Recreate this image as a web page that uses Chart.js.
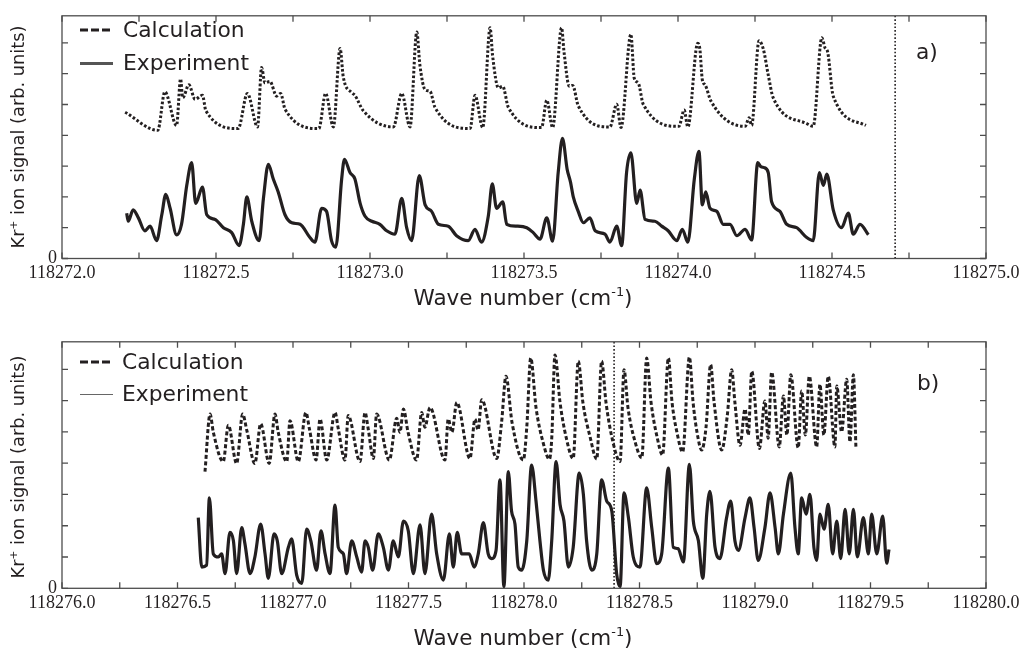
<!DOCTYPE html>
<html>
<head>
<meta charset="utf-8">
<script src="https://cdn.jsdelivr.net/npm/chart.js@4.4.1/dist/chart.umd.min.js"></script>
<style>
  body { margin: 0; background: #fff; width: 1032px; height: 652px; position: relative; overflow: hidden; color: #231f20; }
  canvas { position: absolute; left: 0; }
  .t { position: absolute; white-space: nowrap; line-height: 1; font-family: "DejaVu Sans", sans-serif; }
  .mid { transform: translate(0, -50%); }
  .ytitle { transform: translate(-50%, -50%) rotate(-90deg); font-size: 17.8px; }
  .xtitle { transform: translate(-50%, -50%); font-size: 21.5px; }
  .leg { font-size: 21.8px; }
  sup { font-size: 60%; line-height: 0; vertical-align: 0.7em; }
</style>
</head>
<body>
<canvas id="chartA" width="1032" height="326" style="top:0"></canvas>
<canvas id="chartB" width="1032" height="326" style="top:326px"></canvas>

<!-- panel a texts -->
<div class="t ytitle" style="left:18px; top:137px">Kr<sup>+</sup> ion signal (arb. units)</div>
<div class="t xtitle" style="left:523px; top:298px">Wave number (cm<sup>-1</sup>)</div>
<svg style="position:absolute; left:80px; top:27px" width="34" height="6"><line x1="0" y1="3" x2="33" y2="3" stroke="#231f20" stroke-width="3" stroke-dasharray="8,3"/></svg>
<div class="t leg mid" style="left:123px; top:30px">Calculation</div>
<div style="position:absolute; left:80px; top:62px; width:33px; height:3px; background:#555"></div>
<div class="t leg mid" style="left:123px; top:63px">Experiment</div>
<div class="t leg mid" style="left:916px; top:52px">a)</div>

<!-- panel b texts -->
<div class="t ytitle" style="left:18px; top:467px">Kr<sup>+</sup> ion signal (arb. units)</div>
<div class="t xtitle" style="left:523px; top:638px">Wave number (cm<sup>-1</sup>)</div>
<svg style="position:absolute; left:80px; top:359px" width="34" height="6"><line x1="0" y1="3" x2="33" y2="3" stroke="#231f20" stroke-width="3" stroke-dasharray="8,3"/></svg>
<div class="t leg mid" style="left:122px; top:362px">Calculation</div>
<div style="position:absolute; left:80px; top:394px; width:33px; height:1px; background:#666"></div>
<div class="t leg mid" style="left:122px; top:394px">Experiment</div>
<div class="t leg mid" style="left:917px; top:383px">b)</div>

<script>
// ---- panel a : valeurs ----
const aCalcX = [118272.205,118272.311,118272.334,118272.372,118272.385,118272.392,118272.412,118272.432,118272.456,118272.467,
  118272.572,118272.602,118272.635,118272.648,118272.659,118272.675,118272.697,118272.710,118272.724,
  118272.834,118272.856,118272.881,118272.903,118272.913,118272.941,118272.951,118272.978,
  118273.076,118273.103,118273.130,118273.152,118273.162,118273.179,118273.195,118273.211,
  118273.325,118273.341,118273.366,118273.390,118273.398,118273.417,118273.431,118273.449,
  118273.557,118273.574,118273.593,118273.622,118273.630,118273.647,118273.658,118273.676,
  118273.779,118273.801,118273.815,118273.847,118273.858,118273.871,118273.887,
  118274.003,118274.020,118274.032,118274.064,118274.071,118274.079,118274.088,118274.107,
  118274.218,118274.231,118274.239,118274.263,118274.277,118274.293,118274.309,
  118274.418,118274.439,118274.467,118274.477,118274.486,118274.504,118274.610];
const aCalcY = [4.75,4.16,5.41,4.32,5.83,5.22,5.64,5.17,5.30,4.80,
  4.22,5.36,4.27,6.20,5.70,5.75,5.27,5.36,4.85,
  4.22,5.36,4.27,6.82,5.91,5.38,5.30,4.80,
  4.27,5.36,4.27,7.35,6.28,5.48,5.43,4.91,
  4.22,5.30,4.25,7.49,6.59,5.54,5.59,4.91,
  4.25,5.14,4.25,7.49,6.70,5.59,5.62,4.96,
  4.27,5.01,4.25,7.28,5.85,5.70,5.01,
  4.29,4.82,4.27,6.99,6.80,5.80,5.64,5.11,
  4.29,4.57,4.32,7.07,6.80,5.96,5.22,
  4.38,4.29,7.17,6.85,6.70,5.27,4.32];

const aExpX = [118272.210,118272.215,118272.231,118272.248,118272.269,118272.286,118272.307,118272.324,118272.337,118272.351,
  118272.372,118272.388,118272.405,118272.421,118272.434,118272.456,118272.470,118272.497,118272.524,118272.551,
  118272.575,118272.589,118272.600,118272.616,118272.640,118272.654,118272.670,118272.686,118272.702,118272.724,
  118272.746,118272.773,118272.805,118272.821,118272.843,118272.859,118272.875,118272.889,118272.908,118272.917,
  118272.935,118272.951,118272.968,118272.984,
  118273.006,118273.032,118273.054,118273.081,118273.103,118273.119,118273.135,118273.160,118273.179,118273.200,
  118273.222,118273.254,118273.281,118273.319,118273.341,118273.362,118273.384,118273.397,118273.411,118273.431,
  118273.444,118273.476,118273.509,118273.530,118273.552,118273.574,118273.593,118273.611,118273.625,118273.640,
  118273.651,118273.660,118273.676,118273.693,118273.714,118273.731,118273.763,118273.779,118273.801,118273.817,
  118273.833,118273.847,118273.866,118273.877,118273.893,118273.925,118273.947,118273.968,118273.996,
  118274.014,118274.032,118274.053,118274.068,118274.079,118274.090,118274.104,118274.126,118274.147,118274.169,
  118274.191,118274.218,118274.239,118274.259,118274.269,118274.280,118274.293,118274.304,118274.331,118274.353,
  118274.385,118274.418,118274.439,118274.459,118274.472,118274.483,118274.504,118274.531,118274.553,118274.569,
  118274.591,118274.618];
const aExpY = [1.47,1.21,1.58,1.32,0.90,1.05,0.58,1.42,2.08,1.63,
  0.77,1.11,2.37,3.11,1.79,2.32,1.42,1.27,1.00,0.84,
  0.42,1.11,2.00,1.21,0.58,1.95,3.06,2.58,2.16,1.42,
  1.16,1.11,0.68,0.53,1.63,1.53,0.58,0.37,2.58,3.22,
  2.79,2.58,1.79,1.37,
  1.21,1.11,0.90,0.79,1.95,1.00,0.58,2.69,1.74,1.53,
  1.11,1.05,0.74,0.58,0.95,0.53,1.37,2.42,1.63,1.84,
  1.11,1.05,1.00,0.84,0.63,1.32,0.56,2.79,3.90,2.90,
  2.48,2.00,1.53,1.16,1.32,0.90,0.79,0.53,1.05,0.42,
  2.79,3.43,1.79,2.22,1.27,1.21,1.05,0.90,0.58,
  0.95,0.53,2.58,3.48,1.74,2.16,1.63,1.53,1.11,1.11,
  0.74,0.95,0.60,3.11,2.98,2.95,2.79,1.84,1.53,1.11,
  1.00,0.68,0.58,2.79,2.37,2.74,1.58,1.00,1.47,0.79,
  1.11,0.77];

const aMarkerX = 118274.705;
const aTicksX = [118272.0,118272.25,118272.5,118272.75,118273.0,118273.25,118273.5,118273.75,118274.0,118274.25,118274.5,118274.75,118275.0];
const aLabelsX = ['118272.0','','118272.5','','118273.0','','118273.5','','118274.0','','118274.5','','118275.0'];

// ---- panel b ----
const bCalcX = [118276.619,118276.641,118276.655,118276.698,118276.720,118276.756,118276.782,118276.800,118276.835,118276.860,
  118276.897,118276.922,118276.936,118276.973,118276.987,
  118277.023,118277.056,118277.071,118277.100,118277.117,118277.146,118277.182,118277.196,118277.225,118277.239,
  118277.290,118277.312,118277.325,118277.348,118277.362,118277.417,118277.449,118277.463,118277.478,118277.498,
  118277.535,118277.557,118277.571,118277.593,118277.658,118277.672,118277.688,118277.709,118277.766,118277.788,
  118277.801,118277.817,118277.882,118277.903,118277.922,118277.948,118277.997,
  118278.012,118278.029,118278.052,118278.082,118278.110,118278.120,118278.134,118278.156,118278.182,118278.213,
  118278.235,118278.255,118278.286,118278.315,118278.336,118278.355,118278.385,118278.416,118278.433,118278.450,
  118278.481,118278.510,118278.531,118278.550,118278.576,118278.600,118278.625,118278.641,118278.662,118278.687,
  118278.716,118278.732,118278.749,118278.769,118278.788,118278.808,118278.823,118278.856,118278.880,118278.899,
  118278.913,118278.935,118278.957,118278.971,118278.986,
  118279.019,118279.043,118279.057,118279.072,118279.105,118279.123,118279.138,118279.155,118279.187,118279.202,
  118279.218,118279.235,118279.267,118279.281,118279.298,118279.317,118279.346,118279.354,118279.375,118279.397,
  118279.411,118279.426,118279.437];
const bCalcY = [3.73,5.57,4.99,4.05,5.21,3.99,5.57,5.05,3.99,5.26,
  3.99,5.57,4.99,4.05,5.36,
  4.05,5.62,5.10,4.10,5.41,4.10,5.62,5.10,4.10,5.52,
  4.05,5.62,5.12,4.15,5.57,4.10,5.44,4.99,5.73,4.99,
  4.10,5.62,5.15,5.78,4.10,5.41,4.99,5.94,4.15,5.41,
  5.06,6.03,4.15,5.31,6.78,5.31,4.10,
  5.15,7.36,5.78,4.68,4.13,4.78,7.46,5.94,4.84,4.15,
  7.26,5.94,4.84,4.13,7.26,5.94,4.68,4.05,6.99,5.78,
  4.68,4.17,7.36,5.94,4.84,4.26,7.36,5.94,4.99,4.36,
  7.39,5.94,4.99,4.42,5.15,7.15,5.94,4.42,5.52,6.99,
  5.94,4.57,5.73,4.90,6.94,
  4.47,5.99,4.80,6.91,4.52,6.15,4.90,6.83,4.49,6.31,
  4.90,6.78,4.52,6.52,4.90,6.78,4.52,6.47,5.00,6.68,
  4.68,6.83,4.47];

const bExpX = [118276.590,118276.605,118276.626,118276.638,118276.655,118276.677,118276.691,118276.706,118276.727,118276.742,
  118276.756,118276.778,118276.792,118276.814,118276.835,118276.860,118276.879,118276.893,118276.918,118276.932,
  118276.951,118276.980,118276.994,
  118277.016,118277.038,118277.059,118277.077,118277.102,118277.121,118277.139,118277.160,118277.182,118277.196,
  118277.218,118277.232,118277.254,118277.276,118277.297,118277.312,118277.326,118277.345,118277.369,118277.391,
  118277.413,118277.434,118277.456,118277.478,118277.499,118277.521,118277.550,118277.571,118277.600,118277.622,
  118277.651,118277.677,118277.694,118277.711,118277.730,118277.763,118277.784,118277.802,118277.824,118277.845,
  118277.860,118277.879,118277.896,118277.913,118277.932,118277.946,118277.961,118277.975,118277.990,
  118278.012,118278.033,118278.052,118278.069,118278.084,118278.105,118278.120,118278.139,118278.156,118278.173,
  118278.192,118278.213,118278.239,118278.257,118278.271,118278.293,118278.315,118278.336,118278.358,118278.380,
  118278.401,118278.416,118278.433,118278.452,118278.473,118278.502,118278.531,118278.553,118278.574,118278.596,
  118278.625,118278.646,118278.667,118278.690,118278.716,118278.733,118278.755,118278.774,118278.791,118278.805,
  118278.827,118278.848,118278.877,118278.895,118278.913,118278.928,118278.957,118278.978,118278.996,
  118279.014,118279.043,118279.065,118279.087,118279.101,118279.123,118279.155,118279.173,118279.187,118279.202,
  118279.221,118279.238,118279.255,118279.267,118279.281,118279.299,118279.317,118279.336,118279.354,118279.371,
  118279.390,118279.408,118279.426,118279.443,118279.469,118279.491,118279.505,118279.527,118279.553,118279.570,
  118279.580];
const bExpY = [2.26,0.68,0.74,2.89,1.10,1.00,1.10,0.47,1.79,1.52,
  0.47,1.94,1.42,0.47,1.00,2.05,1.10,0.32,1.74,1.52,
  0.47,1.31,1.58,
  0.42,0.16,1.89,1.52,0.58,1.84,1.10,0.47,2.66,1.31,
  1.10,0.47,1.52,1.00,0.52,1.52,1.31,0.58,1.74,1.31,
  0.58,1.52,1.00,2.15,1.84,0.47,2.03,0.47,2.37,1.10,
  0.26,1.74,0.68,1.79,1.10,1.10,0.68,1.10,2.10,1.10,
  0.95,1.21,3.47,0.05,3.73,2.47,2.05,0.68,0.58,
  1.52,3.94,2.79,1.52,0.58,0.26,1.52,4.05,2.68,2.15,
  0.68,1.31,3.68,3.00,1.52,0.58,1.10,3.47,2.79,2.47,
  0.47,0.05,3.05,2.26,1.00,0.68,3.21,1.94,0.79,1.10,
  3.84,1.31,1.27,0.84,3.96,2.15,1.52,0.32,2.37,3.10,
  1.31,0.95,2.26,2.79,1.52,1.21,2.26,2.89,1.94,
  0.89,1.94,3.05,1.94,1.10,2.37,3.68,1.94,1.10,2.89,
  2.37,3.00,1.31,0.89,2.37,1.89,2.68,1.10,2.15,0.95,
  2.52,1.10,2.52,1.00,2.26,1.10,2.37,1.10,2.31,0.80,
  1.24];

const bMarkerX = 118278.39;
const bTicksX = [118276.0,118276.25,118276.5,118276.75,118277.0,118277.25,118277.5,118277.75,118278.0,118278.25,118278.5,118278.75,118279.0,118279.25,118279.5,118279.75,118280.0];
const bLabelsX = ['118276.0','','118276.5','','118277.0','','118277.5','','118278.0','','118278.5','','118279.0','','118279.5','','118280.0'];

// axe y commun (unités arbitraires)
const yTicks = [0, 1, 2, 3, 4, 5, 6, 7];
const yLabels = ['0', '', '', '', '', '', '', ''];
const yMax = 7.88;

const ink = '#231f20';

function pts(xs, ys) {
  return xs.map((x, i) => ({ x: x, y: ys[i] }));
}

// cadre + graduations vers l'intérieur
const cadre = {
  id: 'cadre',
  afterDraw(chart, args, opts) {
    const { ctx, chartArea: a, scales: { x, y } } = chart;
    ctx.save();
    ctx.strokeStyle = '#4d4d4d';
    ctx.lineWidth = 1.3;
    ctx.strokeRect(a.left, a.top, a.right - a.left, a.bottom - a.top);
    ctx.beginPath();
    opts.xTicks.forEach(v => {
      const px = x.getPixelForValue(v);
      ctx.moveTo(px, a.bottom); ctx.lineTo(px, a.bottom - 6);
      ctx.moveTo(px, a.top); ctx.lineTo(px, a.top + 6);
    });
    yTicks.forEach(v => {
      const py = y.getPixelForValue(v);
      ctx.moveTo(a.left, py); ctx.lineTo(a.left + 6, py);
      ctx.moveTo(a.right, py); ctx.lineTo(a.right - 6, py);
    });
    ctx.stroke();
    ctx.restore();
  }
};

function makeChart(id, cfg) {
  return new Chart(document.getElementById(id), {
    type: 'line',
    data: {
      datasets: [
        { data: pts(cfg.calcX, cfg.calcY), borderColor: ink, borderWidth: cfg.calcWidth, borderDash: cfg.calcDash,
          pointRadius: 0, cubicInterpolationMode: 'monotone', fill: false },
        { data: pts(cfg.expX, cfg.expY), borderColor: ink, borderWidth: 3.2, borderJoinStyle: 'round',
          pointRadius: 0, cubicInterpolationMode: 'monotone', fill: false },
        { data: [{ x: cfg.marker, y: 0 }, { x: cfg.marker, y: yMax }], borderColor: ink, borderWidth: 1.6,
          borderDash: [1.6, 2], pointRadius: 0, tension: 0, fill: false }
      ]
    },
    options: {
      responsive: false,
      animation: false,
      events: [],
      devicePixelRatio: 1,
      layout: { padding: { left: 0, right: 46, top: cfg.padTop, bottom: cfg.padBottom } },
      plugins: { legend: { display: false }, tooltip: { enabled: false }, cadre: { xTicks: cfg.ticksX } },
      scales: {
        x: {
          type: 'linear', min: cfg.ticksX[0], max: cfg.ticksX[cfg.ticksX.length - 1],
          grid: { display: false, drawTicks: false }, border: { display: false },
          afterBuildTicks: s => { s.ticks = cfg.ticksX.map(v => ({ value: v })); },
          afterFit: s => { s.height = 30; },
          ticks: { autoSkip: false, maxRotation: 0, padding: 4, color: ink,
            font: { family: 'Liberation Serif', size: 18 },
            callback: (v, i) => cfg.labelsX[i] }
        },
        y: {
          min: 0, max: yMax,
          grid: { display: false, drawTicks: false }, border: { display: false },
          afterBuildTicks: s => { s.ticks = yTicks.map(v => ({ value: v })); },
          afterFit: s => { s.width = 62; },
          ticks: { padding: 5, color: ink, font: { family: 'Liberation Serif', size: 18 },
            callback: (v, i) => yLabels[i] }
        }
      }
    },
    plugins: [cadre]
  });
}

makeChart('chartA', {
  calcX: aCalcX, calcY: aCalcY, expX: aExpX, expY: aExpY, marker: aMarkerX,
  ticksX: aTicksX, labelsX: aLabelsX, calcDash: [2.6, 2], calcWidth: 3,
  padTop: 9, padBottom: 37.5
});

makeChart('chartB', {
  calcX: bCalcX, calcY: bCalcY, expX: bExpX, expY: bExpY, marker: bMarkerX,
  ticksX: bTicksX, labelsX: bLabelsX, calcDash: [4, 2.4], calcWidth: 3,
  padTop: 13, padBottom: 33.7
});
</script>
</body>
</html>
